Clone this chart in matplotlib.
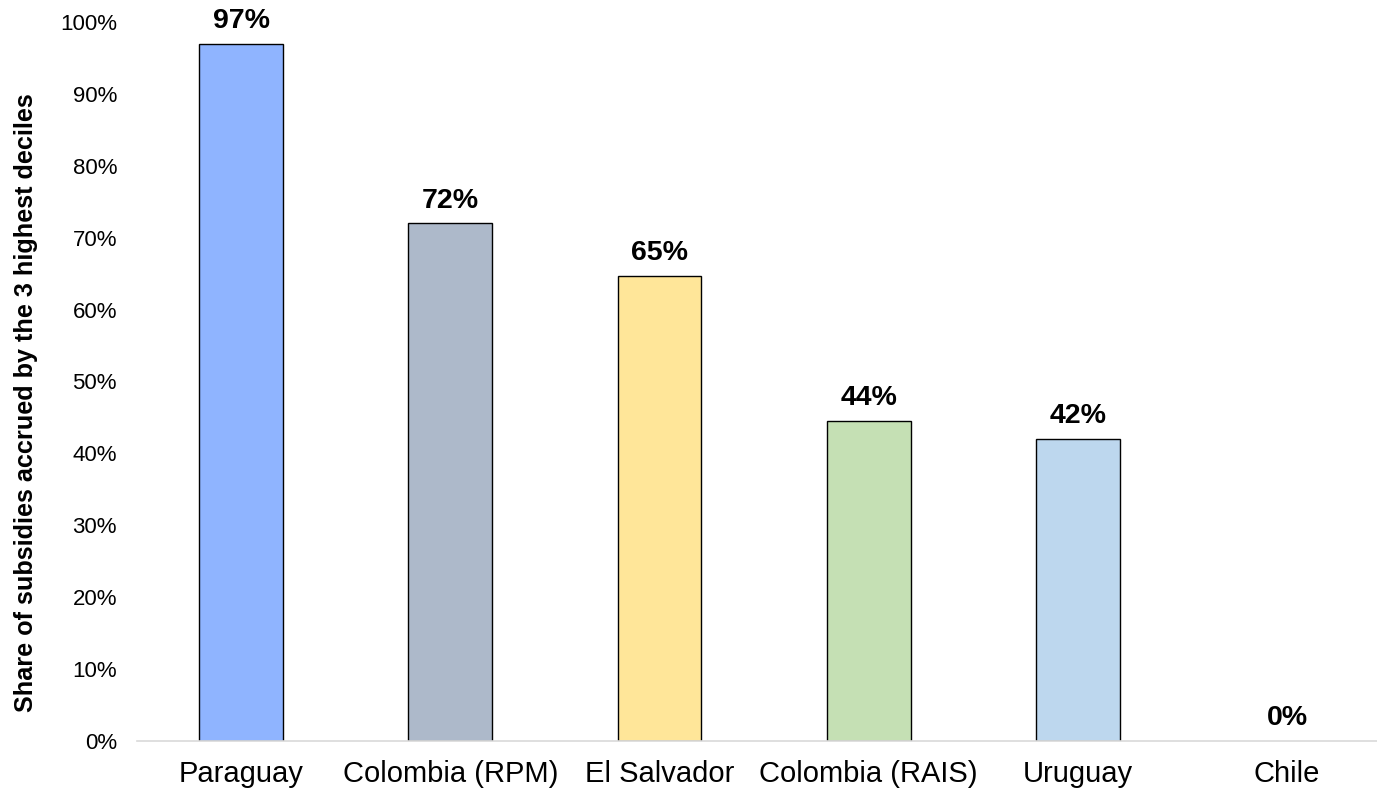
import matplotlib.pyplot as plt
import numpy as np

countries = ['Paraguay', 'Colombia (RPM)', 'El Salvador', 'Colombia (RAIS)', 'Uruguay', 'Chile']
shares = [0.97, 0.72, 0.647, 0.445, 0.42, 0.0]
labels = ['97%', '72%', '65%', '44%', '42%', '0%']
colors = ['#8FB4FF', '#ADB9CA', '#FFE699', '#C5E0B4', '#BDD7EE', '#BDD7EE']

plt.rcParams['font.family'] = ['Liberation Sans', 'DejaVu Sans']

fig = plt.figure(figsize=(13.77, 7.92), dpi=100)
ax = fig.add_axes([136.5 / 1377, 51 / 792, 1 - 136.5 / 1377, 719 / 792])

x = np.arange(len(countries))
lw = [1 if v > 0 else 0 for v in shares]
ax.bar(x, shares, width=0.4, color=colors, edgecolor='black', linewidth=lw)

for xi, v, lab in zip(x, shares, labels):
    ax.annotate(lab, (xi, v), xytext=(0, 7), textcoords='offset points',
                ha='center', va='bottom', fontsize=20.5, fontweight='bold')

ax.set_xlim(-0.5, 5.43)
ax.set_ylim(0, 1)
ticks = np.arange(0, 1.01, 0.1)
ax.set_yticks(ticks)
ax.set_yticklabels([f'{int(round(t * 100))}%' for t in ticks], fontsize=16)
ax.set_xticks(x)
ax.set_xticklabels(countries, fontsize=21)
ax.tick_params(axis='both', length=0)
ax.tick_params(axis='x', pad=14)
ax.tick_params(axis='y', pad=14)

for s in ['top', 'right', 'left']:
    ax.spines[s].set_visible(False)
ax.spines['bottom'].set_color('#d9d9d9')
ax.spines['bottom'].set_linewidth(1.2)

ax.set_ylabel('Share of subsidies accrued by the 3 highest deciles', fontsize=18.2,
              fontweight='bold')
ax.yaxis.set_label_coords(-0.0795, 0.47)

fig.savefig('out.png', dpi=100)
